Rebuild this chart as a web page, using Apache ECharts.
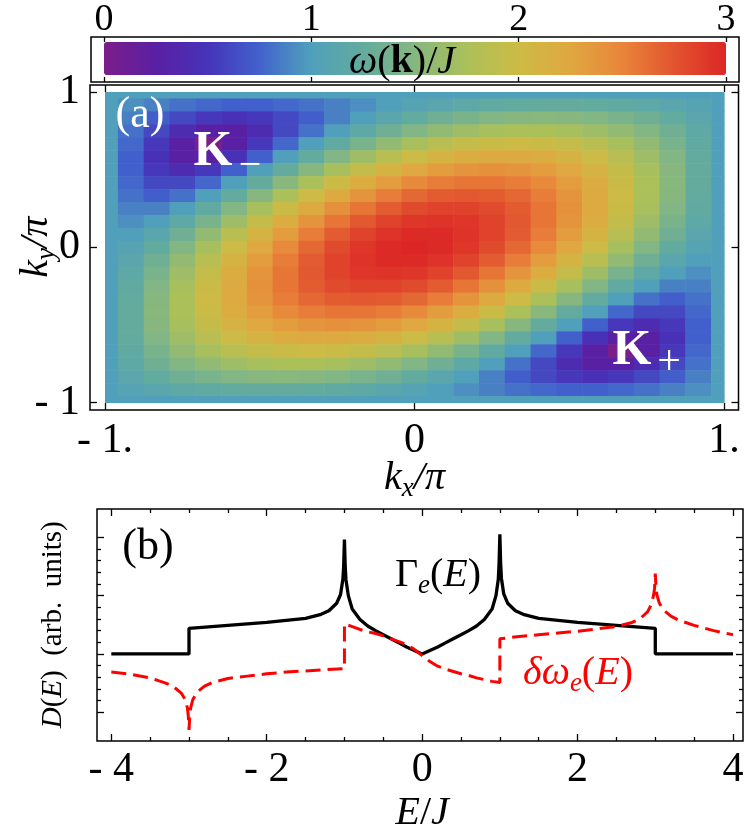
<!DOCTYPE html>
<html><head><meta charset="utf-8">
<script src="https://cdn.jsdelivr.net/npm/echarts@6/dist/echarts.min.js"></script>
<style>html,body{margin:0;padding:0;background:#fff}#c{width:747px;height:832px}</style>
</head><body><div id="c"></div>
<script>
// ---------- panel (a): omega(k)/J on kx, ky grid (units of pi) ----------
const kxVals = [-1,-0.9167,-0.8333,-0.75,-0.6667,-0.5833,-0.5,-0.4167,-0.3333,-0.25,-0.1667,-0.0833,0,0.0833,0.1667,0.25,0.3333,0.4167,0.5,0.5833,0.6667,0.75,0.8333,0.9167,1];
const kyVals = [1,0.9167,0.8333,0.75,0.6667,0.5833,0.5,0.4167,0.3333,0.25,0.1667,0.0833,0,-0.0833,-0.1667,-0.25,-0.3333,-0.4167,-0.5,-0.5833,-0.6667,-0.75,-0.8333,-0.9167,-1];
const omegaRows = [
[1.00,1.00,1.00,1.00,1.00,1.00,1.00,1.00,1.00,1.00,1.00,1.00,1.00,1.00,1.00,1.00,1.00,1.00,1.00,1.00,1.00,1.00,1.00,1.00,1.00],
[1.00,0.93,0.87,0.81,0.77,0.74,0.74,0.77,0.81,0.87,0.93,1.00,1.07,1.13,1.18,1.22,1.25,1.26,1.26,1.25,1.22,1.18,1.13,1.07,1.00],
[1.00,0.87,0.73,0.61,0.52,0.48,0.52,0.61,0.73,0.87,1.00,1.13,1.24,1.34,1.41,1.47,1.51,1.52,1.51,1.47,1.41,1.34,1.24,1.13,1.00],
[1.00,0.81,0.61,0.41,0.26,0.26,0.41,0.61,0.81,1.00,1.18,1.34,1.47,1.59,1.67,1.73,1.76,1.76,1.73,1.67,1.59,1.47,1.34,1.18,1.00],
[1.00,0.77,0.52,0.26,0.00,0.26,0.52,0.77,1.00,1.22,1.41,1.59,1.73,1.85,1.93,1.98,2.00,1.98,1.93,1.85,1.73,1.59,1.41,1.22,1.00],
[1.00,0.74,0.48,0.26,0.26,0.48,0.74,1.00,1.25,1.47,1.67,1.85,1.99,2.10,2.18,2.21,2.21,2.18,2.10,1.99,1.85,1.67,1.47,1.25,1.00],
[1.00,0.74,0.52,0.41,0.52,0.74,1.00,1.26,1.51,1.73,1.93,2.10,2.24,2.33,2.39,2.41,2.39,2.33,2.24,2.10,1.93,1.73,1.51,1.26,1.00],
[1.00,0.77,0.61,0.61,0.77,1.00,1.26,1.52,1.76,1.98,2.18,2.33,2.46,2.54,2.58,2.58,2.54,2.46,2.33,2.18,1.98,1.76,1.52,1.26,1.00],
[1.00,0.81,0.73,0.81,1.00,1.25,1.51,1.76,2.00,2.21,2.39,2.54,2.65,2.71,2.73,2.71,2.65,2.54,2.39,2.21,2.00,1.76,1.51,1.25,1.00],
[1.00,0.87,0.87,1.00,1.22,1.47,1.73,1.98,2.21,2.41,2.58,2.71,2.80,2.84,2.84,2.80,2.71,2.58,2.41,2.21,1.98,1.73,1.47,1.22,1.00],
[1.00,0.93,1.00,1.18,1.41,1.67,1.93,2.18,2.39,2.58,2.73,2.84,2.91,2.93,2.91,2.84,2.73,2.58,2.39,2.18,1.93,1.67,1.41,1.18,1.00],
[1.00,1.00,1.13,1.34,1.59,1.85,2.10,2.33,2.54,2.71,2.84,2.93,2.98,2.98,2.93,2.84,2.71,2.54,2.33,2.10,1.85,1.59,1.34,1.13,1.00],
[1.00,1.07,1.24,1.47,1.73,1.99,2.24,2.46,2.65,2.80,2.91,2.98,3.00,2.98,2.91,2.80,2.65,2.46,2.24,1.99,1.73,1.47,1.24,1.07,1.00],
[1.00,1.13,1.34,1.59,1.85,2.10,2.33,2.54,2.71,2.84,2.93,2.98,2.98,2.93,2.84,2.71,2.54,2.33,2.10,1.85,1.59,1.34,1.13,1.00,1.00],
[1.00,1.18,1.41,1.67,1.93,2.18,2.39,2.58,2.73,2.84,2.91,2.93,2.91,2.84,2.73,2.58,2.39,2.18,1.93,1.67,1.41,1.18,1.00,0.93,1.00],
[1.00,1.22,1.47,1.73,1.98,2.21,2.41,2.58,2.71,2.80,2.84,2.84,2.80,2.71,2.58,2.41,2.21,1.98,1.73,1.47,1.22,1.00,0.87,0.87,1.00],
[1.00,1.25,1.51,1.76,2.00,2.21,2.39,2.54,2.65,2.71,2.73,2.71,2.65,2.54,2.39,2.21,2.00,1.76,1.51,1.25,1.00,0.81,0.73,0.81,1.00],
[1.00,1.26,1.52,1.76,1.98,2.18,2.33,2.46,2.54,2.58,2.58,2.54,2.46,2.33,2.18,1.98,1.76,1.52,1.26,1.00,0.77,0.61,0.61,0.77,1.00],
[1.00,1.26,1.51,1.73,1.93,2.10,2.24,2.33,2.39,2.41,2.39,2.33,2.24,2.10,1.93,1.73,1.51,1.26,1.00,0.74,0.52,0.41,0.52,0.74,1.00],
[1.00,1.25,1.47,1.67,1.85,1.99,2.10,2.18,2.21,2.21,2.18,2.10,1.99,1.85,1.67,1.47,1.25,1.00,0.74,0.48,0.26,0.26,0.48,0.74,1.00],
[1.00,1.22,1.41,1.59,1.73,1.85,1.93,1.98,2.00,1.98,1.93,1.85,1.73,1.59,1.41,1.22,1.00,0.77,0.52,0.26,0.00,0.26,0.52,0.77,1.00],
[1.00,1.18,1.34,1.47,1.59,1.67,1.73,1.76,1.76,1.73,1.67,1.59,1.47,1.34,1.18,1.00,0.81,0.61,0.41,0.26,0.26,0.41,0.61,0.81,1.00],
[1.00,1.13,1.24,1.34,1.41,1.47,1.51,1.52,1.51,1.47,1.41,1.34,1.24,1.13,1.00,0.87,0.73,0.61,0.52,0.48,0.52,0.61,0.73,0.87,1.00],
[1.00,1.07,1.13,1.18,1.22,1.25,1.26,1.26,1.25,1.22,1.18,1.13,1.07,1.00,0.93,0.87,0.81,0.77,0.74,0.74,0.77,0.81,0.87,0.93,1.00],
[1.00,1.00,1.00,1.00,1.00,1.00,1.00,1.00,1.00,1.00,1.00,1.00,1.00,1.00,1.00,1.00,1.00,1.00,1.00,1.00,1.00,1.00,1.00,1.00,1.00]
];
const kxTicks = [-1, 0, 1];
const kyTicks = [-1, 0, 1];
const colorbarTicks = [0, 1, 2, 3];

// ---------- panel (b): densities vs E/J ----------
const gammaE = [-4,-3,-3,-2.5,-2,-1.5,-1.3,-1.2,-1.1,-1.05,-1.02,-1.01,-1,-0.99,-0.98,-0.95,-0.9,-0.8,-0.7,-0.6,-0.5,-0.4,-0.3,-0.2,-0.1,0,0.1,0.2,0.3,0.4,0.5,0.6,0.7,0.8,0.9,0.95,0.98,0.99,1,1.01,1.02,1.05,1.1,1.2,1.3,1.5,2,2.5,3,3,4];
const gammaV = [0,0,0.44,0.49,0.54,0.61,0.68,0.74,0.87,1.02,1.28,1.50,1.96,1.50,1.27,1.00,0.77,0.59,0.48,0.40,0.33,0.26,0.19,0.12,0.06,0.0,0.06,0.12,0.19,0.26,0.33,0.40,0.48,0.59,0.77,1.00,1.28,1.55,2.05,1.55,1.30,1.03,0.87,0.74,0.68,0.61,0.54,0.49,0.44,0,0];
const deltaE = [-4,-3.75,-3.5,-3.3,-3.2,-3.1,-3.05,-3.02,-3.01,-3,-2.99,-2.98,-2.95,-2.9,-2.8,-2.7,-2.5,-2.25,-2,-1.75,-1.5,-1.25,-1,-1,-0.9,-0.8,-0.7,-0.6,-0.5,-0.4,-0.3,-0.2,-0.1,0,0.1,0.2,0.3,0.4,0.5,0.6,0.7,0.8,0.9,1,1,1.25,1.5,1.75,2,2.25,2.5,2.7,2.8,2.9,2.95,2.98,2.99,3,3.01,3.02,3.05,3.1,3.2,3.3,3.5,3.75,4];
const deltaV = [-0.31,-0.35,-0.41,-0.50,-0.56,-0.67,-0.78,-0.93,-1.05,-1.30,-1.05,-0.93,-0.78,-0.66,-0.55,-0.49,-0.42,-0.38,-0.34,-0.31,-0.29,-0.27,-0.25,0.52,0.47,0.42,0.38,0.35,0.31,0.26,0.21,0.16,0.08,-0.03,-0.13,-0.21,-0.26,-0.30,-0.34,-0.37,-0.41,-0.44,-0.47,-0.49,0.26,0.30,0.33,0.36,0.39,0.43,0.47,0.54,0.60,0.72,0.85,1.02,1.12,1.38,1.12,1.02,0.88,0.76,0.65,0.58,0.49,0.40,0.33];
const eTicks = [-4, -2, 0, 2, 4];

// ---------- build ----------
const serif = "'Liberation Serif', 'DejaVu Serif', 'Times New Roman', serif";
const heatData = [];
kyVals.forEach((ky, r) => kxVals.forEach((kx, c) => heatData.push([kx, ky, omegaRows[r][c]])));
const halfX = (kxVals[1] - kxVals[0]) / 2, halfY = (kyVals[0] - kyVals[1]) / 2;
const kxMin = kxVals[0], kxMax = kxVals[kxVals.length - 1];
const kyMin = kyVals[kyVals.length - 1], kyMax = kyVals[0];
const gammaData = gammaE.map((e, i) => [e, gammaV[i]]);
const deltaData = deltaE.map((e, i) => [e, deltaV[i]]);

const cmap = ['#7b1e8a','#5a1fa3','#4633b9','#4262cc','#50a0bb','#63ab9e','#86b780','#abc05a','#cdbb45','#e0a740','#e8853a','#e2542f','#dc2626'];

const signed = (v, dot) => v === 0 ? '0' : (v < 0 ? '- ' + Math.abs(v) : String(v)) + (dot ? '.' : '');
const tickStyle = {color: '#000', width: 1.3};
function tAxis(o) {
  return Object.assign({
    type: 'value', axisLine: {show: false, onZero: false}, splitLine: {show: false},
    axisTick: {show: true, inside: true, length: 7, lineStyle: tickStyle},
    axisLabel: {show: false}, nameMoveOverlap: false
  }, o);
}
const lbl = (size, fmt, margin) => ({show: true, fontFamily: serif, fontSize: size, color: '#000', margin: margin, formatter: fmt});
const minor = (n) => ({show: true, splitNumber: n, length: 4, lineStyle: tickStyle});
const richSub = (size, color) => ({
  i: {fontFamily: serif, fontSize: size, fontStyle: 'italic', color: color, fill: color, lineHeight: size + 8},
  n: {fontFamily: serif, fontSize: size, color: color, fill: color, lineHeight: size + 8},
  s: {fontFamily: serif, fontSize: Math.round(size * 0.68), fontStyle: 'italic', color: color, fill: color, lineHeight: Math.round(size * 0.68), verticalAlign: 'bottom'}
});

const chart = echarts.init(document.getElementById('c'), null, {renderer: 'canvas'});
chart.setOption({
  animation: false,
  backgroundColor: '#fff',
  textStyle: {fontFamily: serif},
  grid: [
    {left: 105, top: 92, width: 619, height: 310.5, containLabel: false, outerBoundsMode: 'none'},
    {left: 111.3, top: 537.3, width: 621.7, height: 175, containLabel: false, outerBoundsMode: 'none'},
    {left: 104, top: 42, width: 622, height: 33, containLabel: false, outerBoundsMode: 'none'}
  ],
  xAxis: [
    tAxis({gridIndex: 0, position: 'bottom', min: kxTicks[0], max: kxTicks[2], interval: 1, offset: 7.5,
      axisLabel: lbl(42, v => signed(v, v !== 0), 10),
      name: '{i|k}{s|x}{i|/π}', nameLocation: 'middle', nameGap: 44,
      nameTextStyle: {rich: richSub(40, '#000')}}),
    tAxis({gridIndex: 0, position: 'top', min: kxTicks[0], max: kxTicks[2], interval: 1, offset: 7}),
    tAxis({gridIndex: 1, position: 'bottom', min: eTicks[0], max: eTicks[4], interval: 2, offset: 28.7,
      minorTick: minor(4), axisLabel: lbl(42, v => signed(v, false), 8),
      name: '{i|E}{n|/}{i|J}', nameLocation: 'middle', nameGap: 48,
      nameTextStyle: {rich: richSub(40, '#000')}}),
    tAxis({gridIndex: 1, position: 'top', min: eTicks[0], max: eTicks[4], interval: 2, offset: 28.3, minorTick: minor(4)}),
    tAxis({gridIndex: 2, position: 'top', min: colorbarTicks[0], max: colorbarTicks[3], interval: 1, offset: 5,
      axisTick: {show: true, inside: true, length: 5, lineStyle: tickStyle},
      axisLabel: lbl(38, v => String(v), -2)}),
    tAxis({gridIndex: 2, position: 'bottom', min: colorbarTicks[0], max: colorbarTicks[3], interval: 1, offset: 7,
      axisTick: {show: true, inside: true, length: 5, lineStyle: tickStyle}})
  ],
  yAxis: [
    tAxis({gridIndex: 0, position: 'left', min: kyTicks[0], max: kyTicks[2], interval: 1, offset: 15,
      axisLabel: lbl(42, v => signed(v, false), 10),
      name: '{i|k}{s|y}{i|/π}', nameLocation: 'middle', nameGap: 30, nameRotate: 90,
      nameTextStyle: {rich: richSub(40, '#000')}}),
    tAxis({gridIndex: 0, position: 'right', min: kyTicks[0], max: kyTicks[2], interval: 1, offset: 14.5}),
    tAxis({gridIndex: 1, position: 'left', min: -1, max: 2, interval: 1, offset: 14.3, minorTick: minor(5),
      name: '{i|D}{n|(}{i|E}{n|)  (arb.  units)}', nameLocation: 'middle', nameGap: 28, nameRotate: 90,
      nameTextStyle: {rich: {
        i: {fontFamily: serif, fontSize: 29, fontStyle: 'italic', color: '#000', lineHeight: 32},
        n: {fontFamily: serif, fontSize: 29, color: '#000', lineHeight: 32}}}}),
    tAxis({gridIndex: 1, position: 'right', min: -1, max: 2, interval: 1, offset: 10, minorTick: minor(5)}),
    {type: 'value', gridIndex: 2, show: false, min: 0, max: 1}
  ],
  visualMap: {
    type: 'continuous', min: colorbarTicks[0], max: colorbarTicks[3], dimension: 2, seriesIndex: 0,
    orient: 'horizontal', left: 104, top: 42, itemWidth: 33, itemHeight: 622, padding: 0,
    calculable: false, hoverLink: false, inRange: {color: cmap}
  },
  series: [
    {
      type: 'custom', xAxisIndex: 0, yAxisIndex: 0, silent: true,
      dimensions: ['kx', 'ky', 'omega'], encode: {x: 0, y: 1},
      data: heatData,
      renderItem: function (params, api) {
        const x = api.value(0), y = api.value(1);
        const x0 = Math.max(x - halfX, kxMin), x1 = Math.min(x + halfX, kxMax);
        const y0 = Math.max(y - halfY, kyMin), y1 = Math.min(y + halfY, kyMax);
        const p0 = api.coord([x0, y1]), p1 = api.coord([x1, y0]);
        return {type: 'rect', shape: {x: p0[0], y: p0[1], width: p1[0] - p0[0] + 0.6, height: p1[1] - p0[1] + 0.6},
          style: {fill: api.visual('color')}};
      }
    },
    {
      name: 'Gamma_e', type: 'line', xAxisIndex: 2, yAxisIndex: 2, data: gammaData,
      showSymbol: false, symbol: 'none', clip: false, z: 3,
      lineStyle: {color: '#000', width: 3.3}
    },
    {
      name: 'delta omega_e', type: 'line', xAxisIndex: 2, yAxisIndex: 2, data: deltaData,
      showSymbol: false, symbol: 'none', clip: false, z: 4,
      lineStyle: {color: '#ff0000', width: 3, type: [15, 7]}
    }
  ],
  graphic: [
    {type: 'rect', shape: {x: 91, y: 37, width: 648, height: 45}, style: {fill: 'none', stroke: '#000', lineWidth: 1.5}, z: 50},
    {type: 'rect', shape: {x: 90, y: 85, width: 648.5, height: 325}, style: {fill: 'none', stroke: '#000', lineWidth: 1.5}, z: 50},
    {type: 'rect', shape: {x: 97, y: 509, width: 646, height: 232}, style: {fill: 'none', stroke: '#000', lineWidth: 1.5}, z: 50},
    {type: 'text', x: 402, y: 62, z: 60, style: {
      text: '{i|ω}{n|(}{b|k}{n|)/}{i|J}', align: 'center', verticalAlign: 'middle',
      rich: {
        i: {fontFamily: serif, fontSize: 40, fontStyle: 'italic', fill: '#000'},
        n: {fontFamily: serif, fontSize: 40, fill: '#000'},
        b: {fontFamily: serif, fontSize: 40, fontWeight: 'bold', fill: '#000'}}}},
    {type: 'text', x: 140, y: 115, z: 60, style: {text: '(a)', fontFamily: serif, fontSize: 44, fill: '#fff', align: 'center', verticalAlign: 'middle'}},
    {type: 'text', x: 213, y: 152, z: 60, style: {text: 'K', fontFamily: serif, fontSize: 50, fontWeight: 'bold', fill: '#fff', align: 'center', verticalAlign: 'middle'}},
    {type: 'text', x: 250, y: 166, z: 60, style: {text: '−', fontFamily: serif, fontSize: 40, fill: '#fff', align: 'center', verticalAlign: 'middle'}},
    {type: 'text', x: 632, y: 351, z: 60, style: {text: 'K', fontFamily: serif, fontSize: 50, fontWeight: 'bold', fill: '#fff', align: 'center', verticalAlign: 'middle'}},
    {type: 'text', x: 669, y: 363, z: 60, style: {text: '+', fontFamily: serif, fontSize: 42, fill: '#fff', align: 'center', verticalAlign: 'middle'}},
    {type: 'text', x: 148, y: 547, z: 60, style: {text: '(b)', fontFamily: serif, fontSize: 44, fill: '#000', align: 'center', verticalAlign: 'middle'}},
    {type: 'text', x: 438, y: 575, z: 60, style: {
      text: '{n|Γ}{s|e}{n|(}{i|E}{n|)}', align: 'center', verticalAlign: 'middle', rich: richSub(40, '#000')}},
    {type: 'text', x: 578, y: 673, z: 60, style: {
      text: '{i|δω}{s|e}{n|(}{i|E}{n|)}', align: 'center', verticalAlign: 'middle', rich: richSub(40, '#ff0000')}}
  ]
});
</script>
</body></html>
